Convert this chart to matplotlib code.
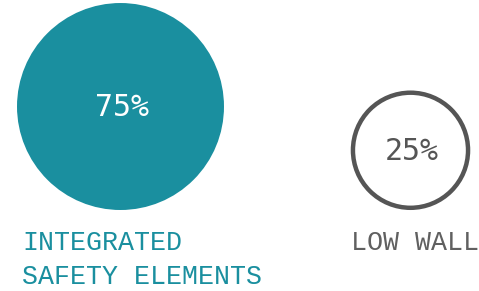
import numpy as np
import matplotlib
matplotlib.use("Agg")
import matplotlib.pyplot as plt
from matplotlib.patches import Circle

# data
labels = ["INTEGRATED\nSAFETY ELEMENTS", "LOW WALL"]
shares = [75, 25]

teal = "#1a8f9f"
grey = "#555555"

fig = plt.figure(figsize=(4.79, 2.91), dpi=100)
ax = fig.add_axes([0, 0, 1, 1])
ax.set_xlim(0, 479)
ax.set_ylim(291, 0)
ax.axis("off")

# circles sized by area, sitting on a common bottom line
bottom = 210
k = 11.95
cx = [120.5, 410.5]
label_x = [22, 351]
line_y = [250.5, 284.5]  # baselines of label lines

for i, v in enumerate(shares):
    r = k * np.sqrt(v)
    cy = bottom - r
    if i == 0:
        ax.add_patch(Circle((cx[i], cy), r, facecolor=teal, edgecolor="none"))
        col_txt = "white"
        col_lab = teal
    else:
        ax.add_patch(Circle((cx[i], cy), r - 2.2, facecolor="none",
                            edgecolor=grey, linewidth=3.2))
        col_txt = grey
        col_lab = "#606060"
    ax.text(cx[i] + 1.5, cy + 1, "%d%%" % v, ha="center", va="center",
            fontsize=21.5, color=col_txt, family="DejaVu Sans Mono")
    for j, line in enumerate(labels[i].split("\n")):
        ax.text(label_x[i], line_y[j], line, ha="left", va="baseline",
                fontsize=19.2, color=col_lab, family="Liberation Mono")

fig.savefig("out.png", dpi=100)
